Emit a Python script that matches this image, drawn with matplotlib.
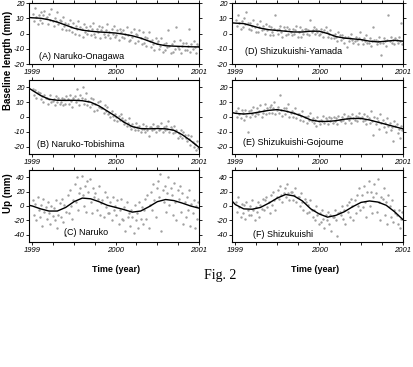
import matplotlib.pyplot as plt
import numpy as np

plt.rcParams['font.family'] = ['Liberation Sans', 'DejaVu Sans']
plt.rcParams['axes.unicode_minus'] = False

# knot times of the smooth model curves (year)
curve_t = [1998.96, 1999.0, 1999.1, 1999.2, 1999.3, 1999.4, 1999.5, 1999.6, 1999.7, 1999.8,
           1999.9, 2000.0, 2000.1, 2000.2, 2000.3, 2000.4, 2000.5, 2000.6, 2000.7, 2000.8,
           2000.9, 2001.0]

# observation epochs, six per month over 1999-2000
obs_t = 1999 + (np.arange(144) + 0.5) / 72

# (A) Naruko-Onagawa baseline (mm)
curve_a = [10.5, 10.3, 10, 9, 7.5, 5.5, 3.5, 2.2, 1.5, 1, 0.7, 0.3, -0.5, -1.5, -3, -5, -7,
           -8, -8.3, -8.5, -8.7, -8.8]
obs_a = [13, 8, 17, 11, 6, 12, 9, 14, 7, 12, 15, 10, 11, 6, 13, 9, 16, 8,
         5, 10, 8, 14, 6, 9, 8, 3, 11, 5, 7, 2, 6, 2, 9, 4, 1, 7,
         0, 5, 3, 8, -1, 4, 3, -2, 6, 1, 4, 0, 2, 5, -1, 3, 7, 0,
         -2, 3, 1, 5, -3, 2, 4, 0, -2, 2, 6, -1, 1, -3, 3, 0, 5, -2,
         -1, 2, -4, 3, 1, -2, 2, -3, 0, 4, -1, -5, -4, 1, -2, 3, -6, 0,
         -1, -5, 2, -3, -7, 1, -6, -2, -8, -3, 1, -5, -9, -4, -7, -11, -3, -6,
         -5, -10, -8, -3, -12, -7, -11, -6, -9, 2, -8, -13, -7, -12, -5, -10, 4, -9,
         -10, -4, -13, -8, -6, -11, -6, -11, -8, 3, -12, -7, -10, -5, -9, -13, -7, -8]

# (B) Naruko-Tobishima baseline (mm)
curve_b = [19.5, 18, 14.5, 12, 11.3, 11.2, 11.3, 11, 10, 7.5, 4, 0.5, -3.5, -6.5, -7.8, -8,
           -7.8, -8, -9, -12, -16, -20.5]
obs_b = [19, 15, 18, 13, 17, 16, 16, 12, 14, 10, 15, 13, 13, 9, 12, 15, 10, 11,
         12, 8, 14, 10, 13, 9, 10, 13, 8, 12, 9, 14, 12, 9, 15, 11, 7, 13,
         14, 10, 19, 12, 8, 15, 13, 20, 9, 12, 16, 8, 11, 7, 13, 9, 12, 4,
         9, 5, 10, 7, 11, 6, 6, 3, 8, 4, 7, 2, 3, 0, 4, 1, -2, 2,
         0, -3, 1, -2, 2, -1, -3, -5, -2, -6, -4, -1, -6, -8, -5, -7, -9, -4,
         -7, -9, -6, -10, -8, -5, -8, -10, -6, -9, -13, -7, -7, -9, -5, -8, -10, -6,
         -6, -9, -8, -4, -10, -7, -9, -6, -8, -3, -10, -7, -8, -11, -6, -10, -9, -14,
         -11, -13, -9, -14, -10, -12, -14, -16, -12, -15, -19, -13, -17, -20, -18, -22, -16, -21]

# (C) Naruko up (mm)
curve_c = [1, 0, -4, -7, -7, -2, 6, 11, 10, 6, 1, -2, -5, -8.5, -7, -1, 6, 9, 7.5, 4, 0, -3]
obs_c = [8, -12, 3, -20, 12, -5, -15, 2, -28, 10, -8, -1, -18, 5, -10, -25, 0, -14,
         -3, -20, 8, -30, -12, 4, -15, 10, -22, 2, -40, -8, 15, -10, 22, 0, -18, 8,
         30, 5, 40, -5, 18, 25, 42, 15, 0, 28, -8, 35, 20, 38, 5, -10, 25, 12,
         18, -5, 10, 28, -12, 4, 8, -15, 20, -2, 12, -10, -10, 5, -20, 12, -6, 0,
         -12, 8, -25, -5, 10, -18, -20, -2, -35, 5, -15, -10, -28, -5, -15, -38, 2, -20,
         -10, -30, 5, -18, -2, -25, -5, 10, -18, 15, -30, 2, 20, -5, 30, 8, -15, 25,
         35, 12, 45, -35, 22, 5, 28, -8, 18, 40, 2, 25, 15, -12, 32, 5, -20, 22,
         10, 28, -8, 18, -25, 5, -15, 12, -5, 22, -28, 3, -10, 8, -30, 0, -18, 5]

# (D) Shizukuishi-Yamada baseline (mm)
curve_d = [7, 6.8, 6.5, 5, 3.5, 2.5, 2, 1.5, 1, 1, 1.5, 1.5, 0, -2, -3, -3.5, -4, -5, -5.5,
           -5, -4.5, -5]
obs_d = [9, 5, 12, 7, 3, 8, 4, 10, 6, 14, 7, 3, 7, 2, 5, 9, 4, 1,
         6, 1, 4, 8, 2, 5, 3, 0, 6, 2, 5, -1, 4, 1, -1, 3, 12, 2,
         0, 3, 5, 1, -2, 4, 2, -1, 4, 0, 3, 1, -1, 3, 0, 2, 5, -2,
         1, 4, -2, 2, 0, 3, 3, 0, 2, -1, 9, 1, 2, 4, 0, 3, 1, -1,
         0, 3, 1, -2, 2, 4, 1, -2, 0, 2, -3, -1, -3, 0, -2, -5, 1, -1,
         -4, -1, -3, -6, -2, -9, -2, -5, -3, 0, -4, -6, -5, -2, -4, -7, -3, 1,
         -4, -7, -3, -5, -1, -6, -6, -3, -8, -5, 4, -4, -4, -7, -5, -2, -6, -14,
         -6, -3, -5, -8, -4, 12, -5, -2, -6, -4, -7, -3, -4, -6, -2, -5, 7, -7]

# (E) Shizukuishi-Gojoume baseline (mm)
curve_e = [3, 2.5, 2, 2.5, 3.5, 4.5, 5, 4, 2.5, 0.5, -2, -3, -3, -2.5, -1.5, -1, -1, -2,
           -3.5, -5, -6.5, -8]
obs_e = [4, 0, 6, 2, -1, 5, 3, -2, 5, 1, -10, 4, 0, 5, 2, 7, 1, 3,
         6, 2, 4, 8, 0, 3, 5, 9, 2, 6, 3, 7, 8, 3, 6, 10, 2, 5,
         7, 3, 15, 5, 1, 6, 2, 6, 4, 9, 0, 3, 4, 0, 3, 6, -1, 2,
         2, -2, 1, 4, -3, 0, 0, -4, 1, -2, 3, -3, -1, -4, -2, -6, 0, -3,
         -5, -2, -3, 1, -4, -1, -2, -5, 0, -3, -1, -4, 0, -3, -1, -5, 1, -2,
         -3, 0, -2, 2, -4, -1, 1, -2, 0, -4, 2, -1, -2, 1, -3, 0, 3, -1,
         0, -3, 2, -2, -5, 1, -1, -4, 4, -3, -12, 0, -5, -1, -3, -8, 2, -4,
         -2, -7, -4, -10, -1, -6, -4, -9, -7, -16, -3, -6, -5, -11, -8, -14, -6, -9]

# (F) Shizukuishi up (mm)
curve_f = [7, 2, -4, -4.5, -2, 4, 11, 16, 14, 7, -4, -11, -15.5, -13, -8, -1, 5, 7, 5.5, 1,
           -8, -19]
obs_f = [5, -8, 12, -2, -15, 3, -10, 2, -18, 5, -5, -12, 0, -12, 8, -5, -20, -2,
         -8, 5, -15, 2, -4, 10, -5, 8, 12, -2, 5, -10, 15, 2, 20, 8, -5, 12,
         22, 10, 28, 15, 5, 18, 25, 12, 30, 18, 8, 20, 20, 8, 15, 25, 5, 12,
         12, 0, 18, 5, -5, 10, 5, -10, 2, -8, 8, -5, -15, -5, -20, 0, -12, -25,
         -10, -22, -5, -18, -30, -12, -20, -8, -25, -12, -35, -15, -15, -5, -20, -42, -10, -8,
         -12, 0, -18, -5, -25, 2, -8, 5, -15, 10, 0, -20, 8, -10, 15, 0, 25, -5,
         15, -2, 28, 5, -15, 20, 35, 0, 20, -10, 12, 30, 18, -8, 38, 5, -20, 12,
         10, 25, -12, 5, -25, 15, 0, -15, 8, -22, -5, -10, -12, -25, -5, -30, -18, -8]

year_ticks = [1999, 2000, 2001]
quarter_ticks = [1999.25, 1999.5, 1999.75, 2000.25, 2000.5, 2000.75]


def draw_panel(rect, obs, curve, label, lx, ly, ylim, yticks):
    ax = fig.add_axes(rect)
    ax.scatter(obs_t, obs, s=3, color='#a0a0a0', linewidths=0)
    ax.plot(curve_t, curve, color='black', lw=1.0)
    ax.set_xlim(1998.96, 2001.0)
    ax.set_ylim(ylim)
    ax.set_xticks(year_ticks)
    ax.set_xticks(quarter_ticks, minor=True)
    ax.set_yticks(yticks)
    ax.tick_params(which='both', direction='out', top=True, right=True, length=2.5,
                   width=0.6, labelsize=5.5, pad=1)
    for lbl in ax.get_xticklabels() + ax.get_yticklabels():
        lbl.set_style('italic')
    for sp in ax.spines.values():
        sp.set_linewidth(0.8)
    ax.text(lx, ly, label, transform=ax.transAxes, fontsize=6.5, ha='left', va='center')
    return ax


fig = plt.figure(figsize=(4.13, 3.67), dpi=100)

left_x, right_x = 0.0702, 0.5617
row1 = [0.8256, 0.1662]
row2 = [0.5804, 0.2016]
row3 = [0.3406, 0.1962]

base_ticks = [-20, -10, 0, 10, 20]
up_ticks = [-40, -20, 0, 20, 40]

draw_panel([left_x, row1[0], 0.4116, row1[1]], obs_a, curve_a, '(A) Naruko-Onagawa',
           0.06, 0.115, (-20, 20), base_ticks)
draw_panel([left_x, row2[0], 0.4116, row2[1]], obs_b, curve_b, '(B) Naruko-Tobishima',
           0.05, 0.135, (-25, 25), base_ticks)
draw_panel([left_x, row3[0], 0.4116, row3[1]], obs_c, curve_c, '(C) Naruko',
           0.206, 0.125, (-50, 50), up_ticks)
draw_panel([right_x, row1[0], 0.414, row1[1]], obs_d, curve_d, '(D) Shizukuishi-Yamada',
           0.076, 0.197, (-20, 20), base_ticks)
draw_panel([right_x, row2[0], 0.414, row2[1]], obs_e, curve_e, '(E) Shizukuishi-Gojoume',
           0.064, 0.162, (-25, 25), base_ticks)
draw_panel([right_x, row3[0], 0.414, row3[1]], obs_f, curve_f, '(F) Shizukuishi',
           0.123, 0.11, (-50, 50), up_ticks)

fig.text(0.02, 1 - 60 / 367, 'Baseline length (mm)', rotation=90, fontsize=7,
         fontweight='bold', ha='center', va='center')
fig.text(0.02, 1 - 193 / 367, 'Up (mm)', rotation=90, fontsize=7,
         fontweight='bold', ha='center', va='center')
fig.text(116 / 413, 1 - 270 / 367, 'Time (year)', fontsize=6.5, fontweight='bold',
         ha='center', va='center')
fig.text(315 / 413, 1 - 270 / 367, 'Time (year)', fontsize=6.5, fontweight='bold',
         ha='center', va='center')
fig.text(220 / 413, 1 - 276 / 367, 'Fig. 2', fontsize=10, family='Liberation Serif',
         ha='center', va='center')

fig.savefig('out.png', dpi=100)
